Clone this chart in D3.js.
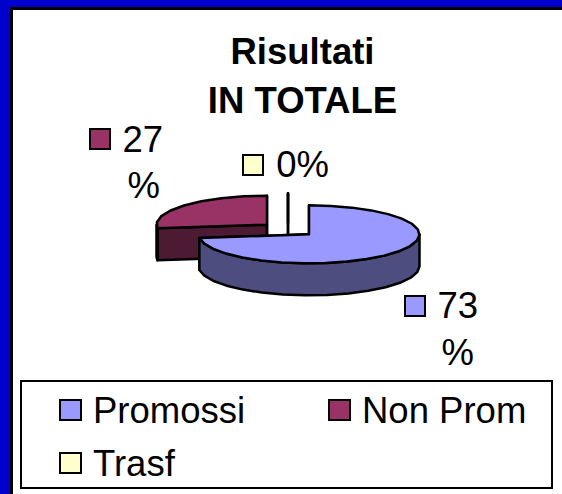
<!DOCTYPE html>
<html>
<head>
<meta charset="utf-8">
<script src="https://d3js.org/d3.v7.min.js"></script>
<style>
  html, body { margin: 0; padding: 0; background: #fff; }
  svg { display: block; }
  text { font-family: "Liberation Sans", Arial, sans-serif; fill: #000; }
</style>
</head>
<body>
<div id="chart"></div>
<script>
var categories = ["Promossi", "Non Prom", "Trasf"];
var values = [73, 27, 0];
var colors = ["#9999ff", "#993366", "#ffffcc"];
var sideColors = ["#4d4d80", "#4d1a33", "#808066"];
var titleLines = ["Risultati", "IN TOTALE"];
// pie labels, wrapped the way the original wraps them
var labelLines = [["73", "%"], ["27", "%"], ["0%"]];

var width = 562, height = 494;
var fontSize = 36.5;

var svg = d3.select("#chart").append("svg")
    .attr("width", width)
    .attr("height", height);

// frame
svg.append("rect").attr("width", width).attr("height", height).attr("fill", "#0000cc");
svg.append("rect")
    .attr("x", 11.5).attr("y", 8.5)
    .attr("width", width).attr("height", height)
    .attr("fill", "#fff").attr("stroke", "#000").attr("stroke-width", 3);

// title
svg.selectAll("text.title")
    .data(titleLines)
    .enter().append("text")
    .attr("class", "title")
    .attr("x", 302.5)
    .attr("y", function(d, i) { return 64 + i * 49; })
    .attr("text-anchor", "middle")
    .attr("font-size", fontSize)
    .attr("font-weight", "bold")
    .text(function(d) { return d; });

// pie
var cx = 288, cy = 229.5, rx = 110.5, ry = 29, depth = 32, explode = 28, squeeze = ry / rx;

var pie = d3.pie().sort(null).value(function(d) { return d; });
var arcs = pie(values);

function rim(c, a) {
  return [c[0] + rx * Math.sin(a), c[1] - ry * Math.cos(a)];
}

function rimPoints(c, a0, a1) {
  var n = Math.max(1, Math.round((a1 - a0) / 0.2));
  return d3.range(n + 1).map(function(i) { return rim(c, a0 + (a1 - a0) * i / n); });
}

function down(p) { return [p[0], p[1] + depth]; }

var line = d3.line();
function closed(pts) { return line(pts) + "Z"; }

// back to front: Trasf, Non Prom, Promossi
var order = [2, 1, 0];
order.forEach(function(i) {
  var d = arcs[i];
  var mid = (d.startAngle + d.endAngle) / 2;
  var c = [cx + explode * Math.sin(mid), cy - explode * squeeze * Math.cos(mid)];
  var g = svg.append("g")
      .attr("stroke", "#000")
      .attr("stroke-width", 2.5)
      .attr("stroke-linejoin", "round");

  // cut faces
  [d.startAngle, d.endAngle].forEach(function(a) {
    var p = rim(c, a);
    g.append("path")
        .attr("d", closed([c, p, down(p), down(c)]))
        .attr("fill", sideColors[i]);
  });

  // outer wall, only the part facing the viewer
  var a0 = Math.max(d.startAngle, Math.PI / 2);
  var a1 = Math.min(d.endAngle, 3 * Math.PI / 2);
  if (a1 > a0) {
    var front = rimPoints(c, a0, a1);
    g.append("path")
        .attr("d", closed(front.concat(front.slice().reverse().map(down))))
        .attr("fill", sideColors[i]);
  }

  // top
  g.append("path")
      .attr("d", closed([c].concat(rimPoints(c, d.startAngle, d.endAngle))))
      .attr("fill", colors[i]);
});

// data labels
var labelBox = [[405, 296], [90, 129], [243, 155]];
var labelEndX = [[478, 474], [163, 160], [329]];
var labelBase = [[318, 365], [152, 198], [177]];
labelLines.forEach(function(lines, i) {
  svg.append("rect")
      .attr("x", labelBox[i][0]).attr("y", labelBox[i][1])
      .attr("width", 20).attr("height", 20)
      .attr("fill", colors[i]).attr("stroke", "#000").attr("stroke-width", 2);
  lines.forEach(function(t, j) {
    svg.append("text")
        .attr("x", labelEndX[i][j])
        .attr("y", labelBase[i][j])
        .attr("text-anchor", "end")
        .attr("font-size", fontSize)
        .text(t);
  });
});

// legend
svg.append("rect")
    .attr("x", 21).attr("y", 381)
    .attr("width", 531).attr("height", 107)
    .attr("fill", "#fff").attr("stroke", "#000").attr("stroke-width", 2);

var legendX = [60, 329, 60], legendY = [400, 400, 453];
var legend = svg.selectAll("g.legend")
    .data(categories)
    .enter().append("g")
    .attr("class", "legend")
    .attr("transform", function(d, i) { return "translate(" + legendX[i] + "," + legendY[i] + ")"; });

legend.append("rect")
    .attr("width", 21).attr("height", 20)
    .attr("fill", function(d, i) { return colors[i]; })
    .attr("stroke", "#000").attr("stroke-width", 2);

legend.append("text")
    .attr("x", 33).attr("y", 23)
    .attr("font-size", fontSize)
    .text(function(d) { return d; });
</script>
</body>
</html>
